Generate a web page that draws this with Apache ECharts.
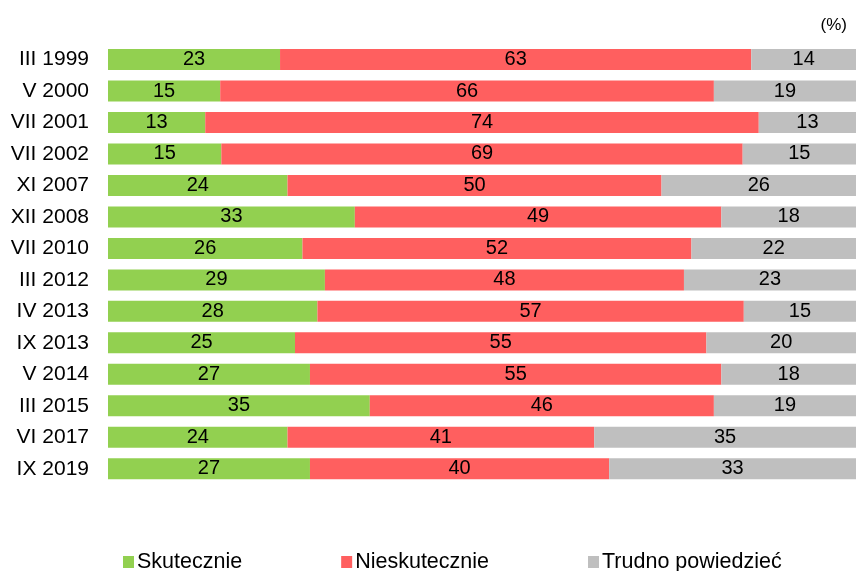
<!DOCTYPE html>
<html><head><meta charset="utf-8">
<script src="https://cdn.jsdelivr.net/npm/echarts@6/dist/echarts.min.js"></script>
<style>html,body{margin:0;padding:0;background:#fff}#c{width:856px;height:571px}</style>
</head><body><div id="c"></div>
<script>
const categories = ['III 1999','V 2000','VII 2001','VII 2002','XI 2007','XII 2008','VII 2010','III 2012','IV 2013','IX 2013','V 2014','III 2015','VI 2017','IX 2019'];
const skutecznie = [23,15,13,15,24,33,26,29,28,25,27,35,24,27];
const nieskutecznie = [63,66,74,69,50,49,52,48,57,55,55,46,41,40];
const trudno = [14,19,13,15,26,18,22,23,15,20,18,19,35,33];
const seriesNames = ['Skutecznie','Nieskutecznie','Trudno powiedzieć'];
const colors = ['#92D050','#FF5F5F','#BFBFBF'];
const raw = [skutecznie, nieskutecznie, trudno];
const totals = categories.map((_, i) => raw.reduce((s, a) => s + a[i], 0));
const font = '"Liberation Sans", Arial, sans-serif';
const chart = echarts.init(document.getElementById('c'), null, {renderer: 'canvas'});
chart.setOption({
  animation: false,
  color: colors,
  textStyle: {fontFamily: font},
  grid: {left: 108, right: 0, top: 43.8, bottom: 86.5, containLabel: false},
  title: {text: '(%)', right: 9, top: 17, padding: 0, textStyle: {fontSize: 17, fontWeight: 'normal', color: '#000', fontFamily: font}},
  legend: {
    left: 123, top: 551, padding: 0, itemWidth: 11, itemHeight: 12, itemGap: 99,
    icon: 'rect',
    textStyle: {fontSize: 21.5, color: '#000', fontFamily: font, padding: [0,0,0,-2]},
    data: seriesNames
  },
  xAxis: {type: 'value', min: 0, max: 100, show: false},
  yAxis: {
    type: 'category', data: categories, inverse: true,
    axisLine: {show: false}, axisTick: {show: false}, splitLine: {show: false},
    axisLabel: {fontSize: 21, color: '#000', margin: 19, fontFamily: font}
  },
  series: raw.map((arr, k) => ({
    name: seriesNames[k], type: 'bar', stack: 'total', barWidth: 21,
    data: arr.map((v, i) => v * 100 / totals[i]),
    label: {show: true, position: 'inside', fontSize: 20, color: '#000', fontFamily: font,
      formatter: p => String(arr[p.dataIndex])},
    itemStyle: {color: colors[k]}
  }))
});
</script></body></html>
